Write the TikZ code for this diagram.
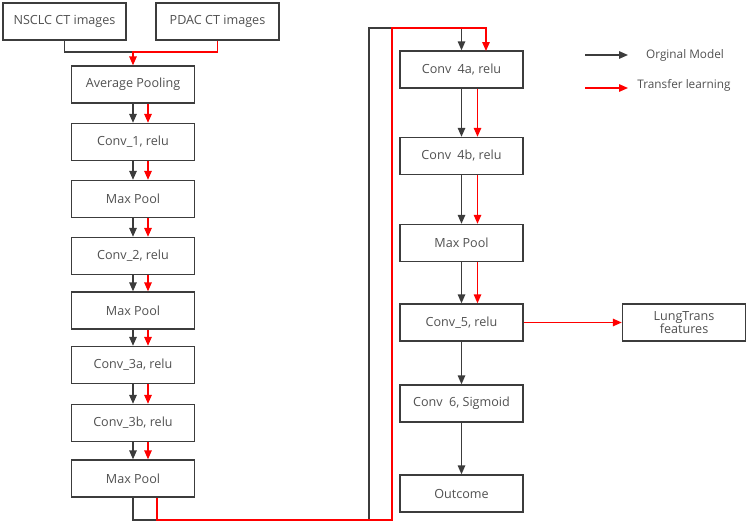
\documentclass[tikz,border=0pt]{standalone}
\usepackage{fontspec}
\setmainfont{Open Sans}
\usetikzlibrary{arrows.meta}
\definecolor{darkline}{RGB}{60,60,60}
\definecolor{labelgray}{RGB}{80,80,80}
\definecolor{tlred}{RGB}{255,0,0}

\begin{document}
\begin{tikzpicture}[x=1pt,y=-1pt,font=\fontsize{12.6}{14.5}\selectfont]
\tikzstyle{block} = [rectangle, draw=darkline, line width=1.4pt, align=center, text=labelgray, minimum height=37pt, minimum width=123pt, inner sep=0pt]
\tikzstyle{orig} = [-{Triangle[length=9pt,width=7.5pt]}, darkline, line width=1.4pt]
\tikzstyle{trans} = [-{Triangle[length=9pt,width=7.5pt]}, tlred, line width=1.4pt]
\tikzstyle{plain} = [darkline, line width=1.4pt]
\tikzstyle{legend} = [text=labelgray, font=\fontsize{11.8}{14}\selectfont]
\useasboundingbox (0,0) rectangle (749,525);
\node[block] (nsclc) at (64.5,21.5) {NSCLC CT images};
\node[block] (pdac) at (217.5,21.5) {PDAC CT images};
\node[block] (avgpool) at (133,84.5) {Average Pooling};
\node[block] (conv1) at (133,142) {Conv\_1, relu};
\node[block] (pool1) at (133,199) {Max Pool};
\node[block] (conv2) at (133,256) {Conv\_2, relu};
\node[block] (pool2) at (133,310.5) {Max Pool};
\node[block] (conv3a) at (133,365) {Conv\_3a, relu};
\node[block] (conv3b) at (133,423) {Conv\_3b, relu};
\node[block] (pool3) at (133,478.5) {Max Pool};
\node[block] (conv4a) at (461.5,69.5) {Conv\enspace4a, relu};
\node[block] (conv4b) at (461.5,156) {Conv\enspace4b, relu};
\node[block] (pool4) at (461.5,243) {Max Pool};
\node[block] (conv5) at (461.5,322.5) {Conv\_5, relu};
\node[block] (conv6) at (461.5,403.5) {Conv\enspace6, Sigmoid};
\node[block] (outcome) at (461.5,493.5) {Outcome};
\node[block] (lungtrans) at (684,322.5) {LungTrans\\[-2pt]features};
\coordinate (join) at (133,52);
\coordinate (blkbot) at (369,520);
\coordinate (blktop) at (369,28);
\coordinate (redbot) at (392,520);
\coordinate (redtop) at (392,28);
\coordinate (redin) at (486,51);
\coordinate (lgblka) at (585,55);
\coordinate (lgblkb) at (628,55);
\coordinate (lgreda) at (585,88);
\coordinate (lgredb) at (628,88);
\draw[plain] (nsclc.south) |- (join);
\draw[trans] (pdac.south) |- (join) -- (avgpool.north);
\foreach \a/\b in {avgpool/conv1, conv1/pool1, pool1/conv2, conv2/pool2, pool2/conv3a, conv3a/conv3b, conv3b/pool3}{
  \draw[orig] (\a) -- (\b);
  \draw[trans] ([xshift=15pt]\a.south) -- ([xshift=15pt]\b.north);
}
\draw[orig] (pool3.south) |- (blkbot) -- (blktop) -| (conv4a.north);
\draw[trans] ([xshift=24pt]pool3.south) |- (redbot) -- (redtop) -| (redin);
\foreach \a/\b in {conv4a/conv4b, conv4b/pool4, pool4/conv5}{
  \draw[orig] (\a) -- (\b);
  \draw[trans] ([xshift=16pt]\a.south) -- ([xshift=16pt]\b.north);
}
\draw[orig] (conv5) -- (conv6);
\draw[orig] (conv6) -- (outcome);
\draw[trans] (conv5) -- (lungtrans);
\draw[orig] (lgblka) -- (lgblkb);
\draw[trans] (lgreda) -- (lgredb);
\node[legend] (lgorig) at (685,55) {Orginal Model};
\node[legend] (lgtrans) at (684,85) {Transfer learning};
\end{tikzpicture}
\end{document}
